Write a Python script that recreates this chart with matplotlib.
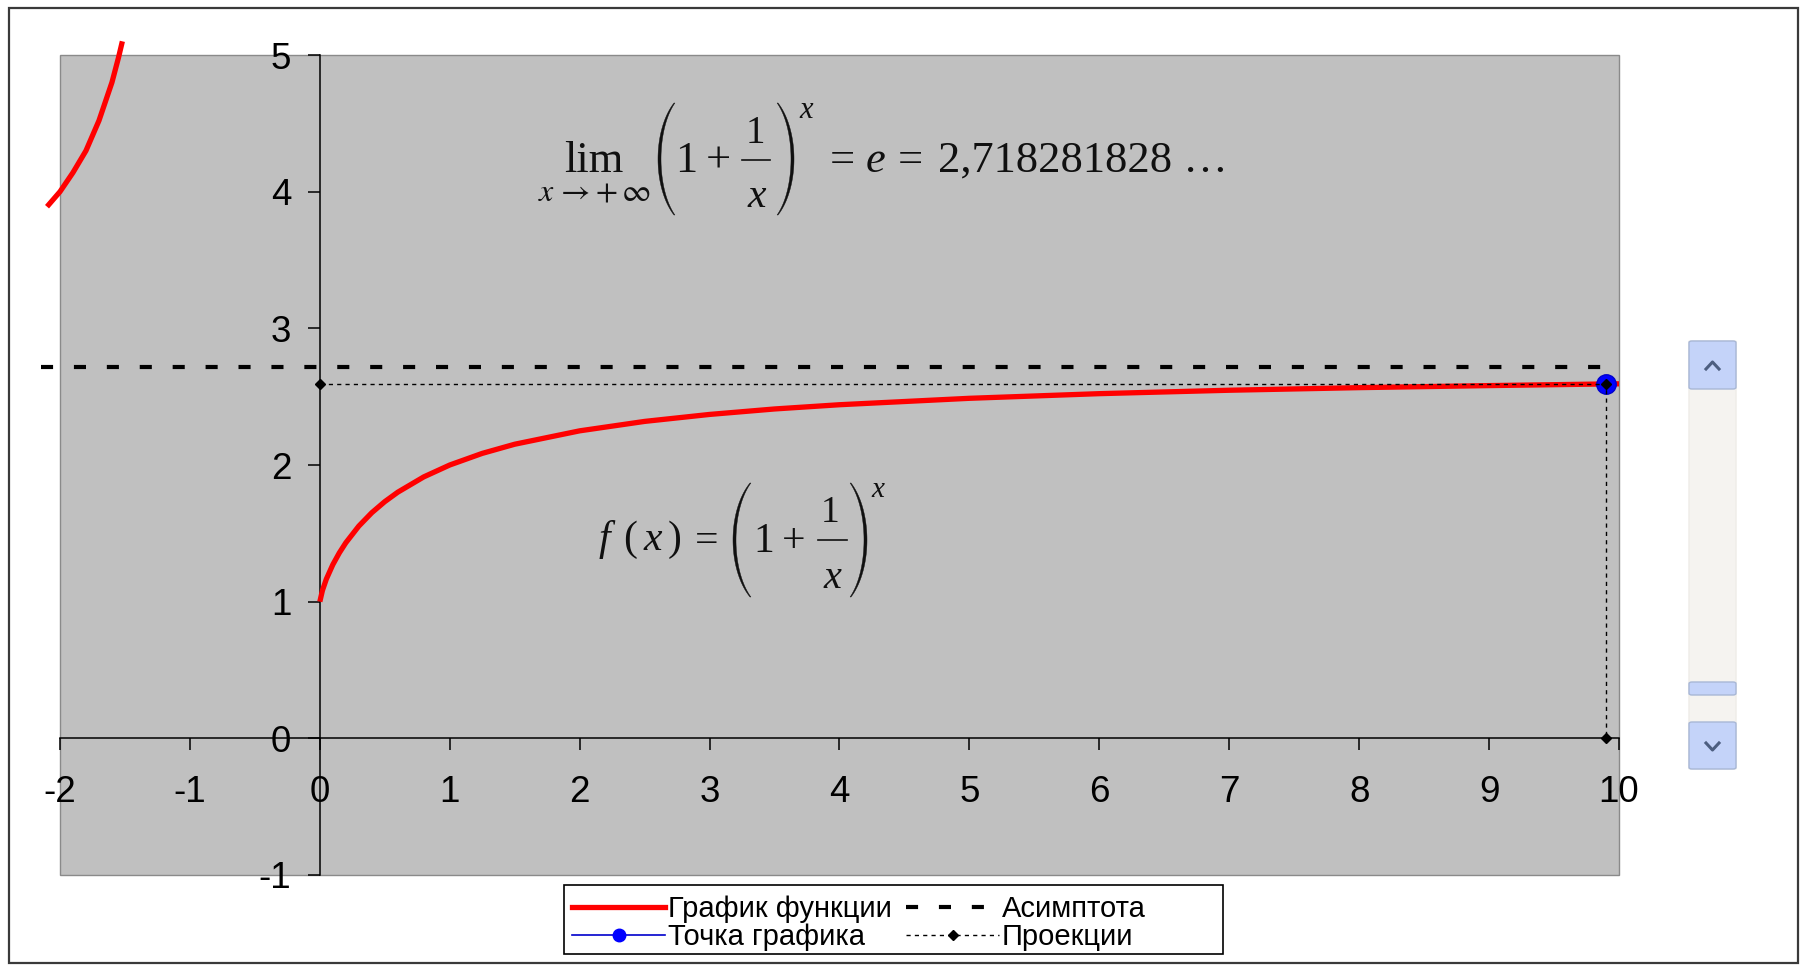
import matplotlib
matplotlib.use('Agg')
import numpy as np
import matplotlib.pyplot as plt
from matplotlib.lines import Line2D
from matplotlib.patches import Rectangle, FancyBboxPatch, Polygon

# ---------------- data ----------------
x_left = [-2.1, -2.0, -1.9, -1.8, -1.7, -1.6, -1.55, -1.52]
y_left = [3.89, 4.00, 4.14, 4.30, 4.52, 4.80, 4.98, 5.10]
x_right = [0.0, 0.02, 0.05, 0.1, 0.15, 0.2, 0.3, 0.4, 0.5, 0.6, 0.8, 1.0, 1.25,
           1.5, 2.0, 2.5, 3.0, 3.5, 4.0, 5.0, 6.0, 7.0, 8.0, 9.0, 9.9, 10.0]
y_right = [1.00, 1.082, 1.165, 1.271, 1.357, 1.431, 1.553, 1.651, 1.732, 1.801,
           1.913, 2.000, 2.085, 2.152, 2.250, 2.319, 2.370, 2.410, 2.441, 2.488,
           2.522, 2.547, 2.566, 2.581, 2.593, 2.594]
asym_x = [-2.15, 10.0]
asym_y = [2.718, 2.718]
point_x = [9.9]
point_y = [2.593]
proj_x = [0.0, 9.9, 9.9]
proj_y = [2.593, 2.593, 0.0]
xticks = list(range(-2, 11))
yticks = list(range(-1, 6))
legend_labels = ['График функции', 'Точка графика', 'Асимптота', 'Проекции']
e_value_text = '2,718281828 …'

# ---------------- figure ----------------
W, H = 1806, 966
plt.rcParams['font.family'] = ['Liberation Sans', 'DejaVu Sans']
plt.rcParams['mathtext.fontset'] = 'stix'
fig = plt.figure(figsize=(W / 100, H / 100), dpi=100)
fig.patch.set_facecolor('white')


def fx(px):
    return px / W


def fy(py):
    return 1 - py / H


# outer frame
fig.add_artist(Rectangle((fx(9), fy(963)), fx(1798) - fx(9), fy(8) - fy(963),
                         transform=fig.transFigure, fill=False,
                         edgecolor='#3a3a3a', linewidth=1.6))

# plot area
L, R, T, B = 60, 1619, 55, 875
ax = fig.add_axes([fx(L), fy(B), fx(R) - fx(L), fy(T) - fy(B)])
ax.set_facecolor('#C0C0C0')
ax.patch.set_edgecolor('#8a8a8a')
ax.patch.set_linewidth(1.0)
ax.set_xlim(-2, 10)
ax.set_ylim(-1, 5)

for s in ['top', 'right']:
    ax.spines[s].set_visible(False)
ax.spines['left'].set_position(('data', 0))
ax.spines['bottom'].set_position(('data', 0))
for s in ['left', 'bottom']:
    ax.spines[s].set_color('black')
    ax.spines[s].set_linewidth(1.1)

ax.set_xticks(xticks)
ax.set_yticks(yticks)
ax.set_xticklabels([str(v) for v in xticks])
ax.set_yticklabels([str(v) for v in yticks])
ax.tick_params(axis='x', direction='out', length=8.6, width=1.1, pad=18,
               labelsize=26.5, colors='black')
ax.tick_params(axis='y', direction='out', length=8.6, width=1.1, pad=12,
               labelsize=26.5, colors='black')

# series
ax.plot(x_left, y_left, color='#FF0000', lw=3.8, clip_on=False, zorder=3,
        solid_capstyle='butt')
ax.plot(x_right, y_right, color='#FF0000', lw=3.8, clip_on=False, zorder=3,
        solid_capstyle='butt')
ax.plot(asym_x, asym_y, color='black', lw=3.0, dashes=(2.9, 5.0),
        clip_on=False, zorder=4)
ax.plot(point_x, point_y, color='#0000FF', lw=1, marker='o', markersize=14,
        markeredgecolor='#0000CC', clip_on=False, zorder=5)
ax.plot(proj_x, proj_y, color='black', lw=1.0, dashes=(3, 3), marker='D',
        markersize=5.5, clip_on=False, zorder=6)

# ---------------- formulas (Times-like text pieces) ----------------
TXT = '#101010'


def ftext(px, py, s, size, ha='center', style='normal', family='Liberation Serif'):
    fig.text(fx(px), fy(py), s, fontsize=size, ha=ha, va='baseline',
             fontstyle=style, family=family, color=TXT)


def paren(x0, x1, y0, y1, left=True, tmax=3.0, tmin=0.9):
    alpha = np.radians(55)
    w = x1 - x0 - tmax
    hh = (y1 - y0) / 2
    a = w / (1 - np.cos(alpha))
    b = hh / np.sin(alpha)
    th = np.linspace(-alpha, alpha, 80)
    cy = (y0 + y1) / 2
    thick = tmin + (tmax - tmin) * np.cos(th / alpha * np.pi / 2)
    if left:
        xo = x0 + a * (1 - np.cos(th))
        xi = xo + thick
    else:
        xo = x1 - a * (1 - np.cos(th))
        xi = xo - thick
    ys = cy + b * np.sin(th)
    pts = np.vstack([np.column_stack([xo, ys]),
                     np.column_stack([xi[::-1], ys[::-1]])])
    fpts = np.column_stack([pts[:, 0] / W, 1 - pts[:, 1] / H])
    fig.add_artist(Polygon(fpts, closed=True, transform=fig.transFigure,
                           facecolor=TXT, edgecolor=TXT, linewidth=0.3))


def bar(x0, x1, y):
    fig.add_artist(Line2D([fx(x0), fx(x1)], [fy(y), fy(y)],
                          transform=fig.transFigure, color=TXT, lw=1.2))


# lim formula
ftext(593.5, 172, 'lim', 32)
fig.text(fx(594.5), fy(201), r'$x\;\!\rightarrow\!+\infty$', fontsize=23,
         ha='center', va='baseline', color=TXT)
paren(658, 677, 103, 215, left=True)
ftext(686.5, 172, '1', 32)
ftext(718.5, 172, '+', 32)
ftext(755.5, 143, '1', 28)
bar(742, 770, 160)
ftext(757, 207, 'x', 30, style='italic')
paren(775, 794, 103, 215, left=False)
ftext(806.5, 118, 'x', 22, style='italic')
ftext(842.5, 172, '=', 32)
ftext(876, 172, 'e', 32, style='italic')
ftext(910, 172, '=', 32)
ftext(938, 172, e_value_text, 32, ha='left')

# f(x) formula
ftext(604, 550, 'f', 30, style='italic')
ftext(630, 550, '(', 30)
ftext(653, 550, 'x', 30, style='italic')
ftext(675, 550, ')', 30)
ftext(706.5, 552, '=', 30)
paren(733, 753, 483, 597, left=True)
ftext(763.5, 552, '1', 30)
ftext(793.5, 552, '+', 30)
ftext(830, 522, '1', 27)
bar(818, 847, 540)
ftext(832, 588, 'x', 29, style='italic')
paren(848, 867, 483, 597, left=False)
ftext(877.5, 497, 'x', 21, style='italic')

# ---------------- legend ----------------
fig.add_artist(Rectangle((fx(564), fy(954)), fx(1223) - fx(564), fy(885) - fy(954),
                         transform=fig.transFigure, facecolor='white',
                         edgecolor='black', linewidth=1.2, zorder=9))
h_func = Line2D([], [], color='#FF0000', lw=3.8)
h_point = Line2D([], [], color='#0000CC', lw=1.2, marker='o', markersize=9,
                 markerfacecolor='#0000FF', markeredgecolor='#0000FF')
h_asym = Line2D([], [], color='black', lw=3.0, dashes=(2.9, 5.0))
h_proj = Line2D([], [], color='black', lw=1.0, dashes=(3, 3), marker='D',
                markersize=5)
leg = fig.legend([h_func, h_point, h_asym, h_proj], legend_labels,
                 ncol=2, loc='upper left', bbox_to_anchor=(fx(572), fy(895)),
                 bbox_transform=fig.transFigure, fontsize=21, frameon=False,
                 borderpad=0, labelspacing=0.0, handlelength=3.2,
                 handletextpad=0.08, columnspacing=0.5, borderaxespad=0,
                 numpoints=1)
leg.set_zorder(10)

# ---------------- scrollbar (decorative) ----------------
def fig_box(x0, y0, x1, y1, fc, ec, rad=3):
    fig.add_artist(FancyBboxPatch((fx(x0), fy(y1)), fx(x1) - fx(x0), fy(y0) - fy(y1),
                                  boxstyle='round,pad=0,rounding_size=%f' % (rad / W),
                                  transform=fig.transFigure, facecolor=fc,
                                  edgecolor=ec, linewidth=1))


fig_box(1689, 341, 1736, 769, '#F5F3F0', '#EEECE8', rad=1)
fig_box(1689, 341, 1736, 389, '#C4D3F9', '#A8B7D6')
fig_box(1689, 682, 1736, 695, '#C4D3F9', '#A8B7D6')
fig_box(1689, 722, 1736, 769, '#C4D3F9', '#A8B7D6')
fig.add_artist(Line2D([fx(1706), fx(1712.5), fx(1719)], [fy(369), fy(362), fy(369)],
                      transform=fig.transFigure, color='#4D5E80', lw=2.2))
fig.add_artist(Line2D([fx(1706), fx(1712.5), fx(1719)], [fy(743), fy(750), fy(743)],
                      transform=fig.transFigure, color='#4D5E80', lw=2.2))

fig.savefig('out.png', dpi=100, facecolor='white')
